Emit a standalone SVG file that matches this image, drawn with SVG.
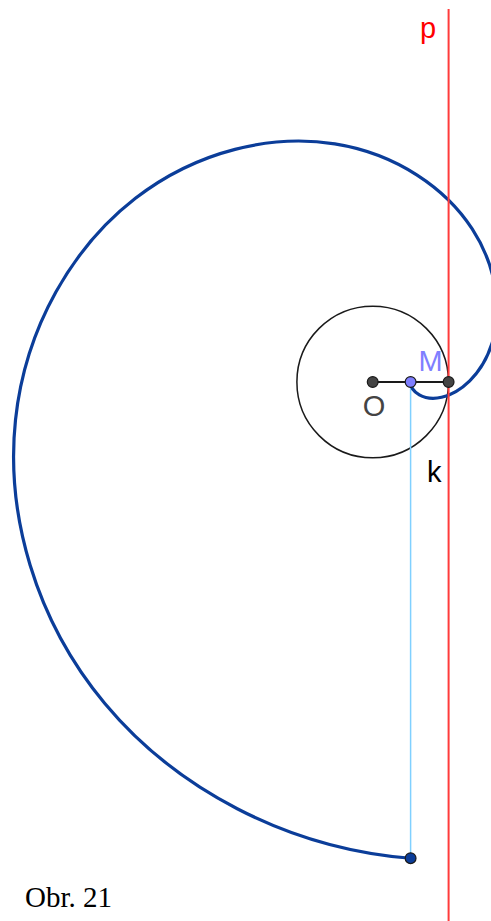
<svg xmlns="http://www.w3.org/2000/svg" width="491" height="921" viewBox="0 0 491 921">
  <style>
    .lbl { font-family: "Liberation Sans", Arial, sans-serif; font-size: 29px; }
    .pt { stroke: #1a1a1a; stroke-width: 1.2; }
  </style>
  <rect x="0" y="0" width="491" height="921" fill="#ffffff"/>
  <g id="circle-k">
    <circle cx="372.7" cy="382" r="75.8" fill="none" stroke="#1a1a1a" stroke-width="1.5"/>
  </g>
  <g id="connectors">
    <line id="seg-OA" x1="372.7" y1="382" x2="448.6" y2="382" stroke="#1a1a1a" stroke-width="2"/>
    <line id="seg-M-end" x1="410.6" y1="382" x2="410.6" y2="858.2" stroke="#80d0ff" stroke-width="1.5"/>
    <path id="curve" fill="none" stroke="#0b3d99" stroke-width="3.2" stroke-linecap="round"
      d="M410.6,382 C410.6,391.92 423.56,401.31 441.6,397.3
         C459.64,393.3 481.85,375.27 491.77,344.1
         C501.69,312.93 498.24,268.99 472.19,228.91
         C446.14,188.83 397.14,153.79 334.8,143.87
         C272.46,133.95 197.54,150.23 135.42,198.32
         C73.3,246.41 25.42,326.39 15.5,419.9
         C5.58,513.41 34.7,619.31 104.83,703.47
         C174.96,787.63 285.92,848.34 410.6,858.26"/>
    <line id="line-p" x1="448.6" y1="9" x2="448.6" y2="921" stroke="#ff3b3b" stroke-width="2"/>
  </g>
  <g id="node-O">
    <circle class="pt" cx="372.7" cy="382" r="5.4" fill="#444444"/>
    <text class="lbl" x="362.8" y="415.5" fill="#444444">O</text>
  </g>
  <g id="node-M">
    <circle class="pt" cx="410.6" cy="382" r="5.4" fill="#7f7fff"/>
    <text class="lbl" x="418.5" y="370.7" fill="#7f7fff">M</text>
  </g>
  <g id="node-A">
    <circle class="pt" cx="448.6" cy="382" r="5.4" fill="#444444"/>
  </g>
  <g id="node-end">
    <circle class="pt" cx="410.6" cy="858.2" r="5.4" fill="#0b3d99"/>
  </g>
  <g id="label-k">
    <text class="lbl" x="427" y="481.7" fill="#000000">k</text>
  </g>
  <g id="label-p">
    <text class="lbl" x="420" y="38" fill="#ff0000">p</text>
  </g>
  <g id="caption">
    <text x="25" y="907" font-family="'Liberation Serif', 'Times New Roman', serif" font-size="29" fill="#000000">Obr. 21</text>
  </g>
</svg>
